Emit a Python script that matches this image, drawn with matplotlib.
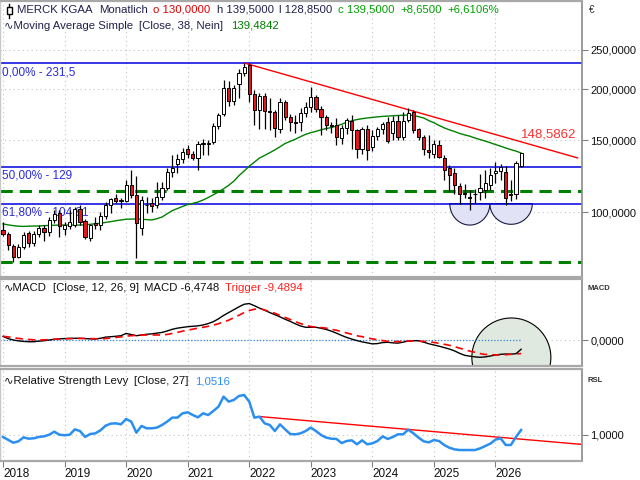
import numpy as np
import matplotlib
matplotlib.use("Agg")
import matplotlib.pyplot as plt
from matplotlib.patches import Ellipse, Polygon
from matplotlib.lines import Line2D
from matplotlib.transforms import blended_transform_factory
import matplotlib.ticker as mticker

plt.rcParams['font.family'] = ['Liberation Sans', 'DejaVu Sans']

# ---------------- data (monthly candles, Jan 2018 ...) ----------------
opens = [90.5, 88.5, 82.5, 77.5, 82.0, 88.8, 84.0, 88.5, 91.3, 89.5, 95.5, 99.5,
         91.0, 92.5, 93.0, 101.5, 95.0, 86.5, 94.0, 92.8, 97.8, 104.3, 108.0, 106.3,
         106.3, 116.5, 110.0, 91.3, 104.0, 105.4, 103.8, 108.6, 114.3, 125.5, 131.0, 134.5,
         142.5, 139.0, 136.0, 146.5, 147.0, 148.7, 162.5, 173.5, 201.0, 187.0, 206.0, 218.5,
         229.0, 194.5, 177.8, 192.0, 176.5, 175.5, 160.0, 185.5, 171.0, 166.0, 166.0, 174.5,
         181.0, 191.0, 179.0, 171.0, 163.0, 163.0, 152.0, 160.5, 167.5, 158.5, 143.0, 160.0,
         144.0, 153.5, 159.7, 166.5, 155.9, 167.3, 152.5, 168.0, 176.0, 159.5, 152.5, 141.9,
         138.7, 146.0, 136.0, 128.0, 124.4, 115.5, 111.5, 109.0, 111.0, 111.7, 113.0, 116.5,
         124.5, 126.0, 125.5, 110.5, 111.0, 130.0]
highs = [94.5, 89.5, 83.5, 83.5, 89.5, 90.0, 90.0, 93.0, 93.0, 97.0, 101.0, 101.0,
         94.5, 101.0, 103.0, 104.0, 96.0, 93.5, 97.0, 100.0, 106.0, 108.5, 111.0, 108.0,
         120.0, 126.7, 122.5, 109.5, 109.0, 108.0, 118.5, 118.5, 128.0, 138.0, 139.0, 143.5,
         146.0, 141.0, 149.0, 151.0, 150.0, 165.0, 175.0, 210.6, 210.0, 205.0, 224.0, 231.5,
         231.5, 199.0, 196.0, 196.0, 190.0, 178.0, 190.0, 188.0, 174.0, 173.0, 180.0, 186.0,
         203.0, 193.0, 182.0, 173.0, 166.0, 170.0, 163.0, 170.0, 173.0, 160.0, 162.0, 163.0,
         158.5, 162.0, 166.5, 171.0, 172.0, 172.5, 176.0, 180.0, 178.0, 161.0, 154.5, 154.7,
         150.0, 150.0, 138.0, 130.5, 128.0, 117.5, 117.0, 113.5, 114.0, 124.0, 127.0, 128.0,
         132.7, 131.0, 130.0, 119.5, 133.0, 139.5]
lows = [87.5, 80.5, 75.5, 77.0, 81.0, 82.0, 82.5, 87.0, 85.0, 87.5, 94.0, 87.0,
        88.0, 91.0, 92.0, 93.0, 86.0, 85.0, 91.0, 90.5, 96.0, 99.6, 105.0, 102.0,
        106.0, 108.0, 77.0, 87.8, 99.5, 100.0, 102.0, 107.0, 113.0, 121.8, 124.5, 132.0,
        136.0, 134.0, 126.7, 138.0, 138.0, 147.0, 160.0, 172.0, 182.0, 183.0, 190.0, 215.0,
        186.0, 163.0, 160.0, 160.0, 159.0, 153.0, 156.0, 168.0, 158.0, 156.0, 158.0, 171.0,
        176.0, 176.0, 154.0, 159.0, 156.0, 146.0, 147.0, 155.0, 142.5, 135.7, 139.0, 134.0,
        141.0, 150.0, 155.0, 148.0, 150.0, 150.5, 150.0, 166.0, 156.5, 150.0, 138.0, 135.5,
        135.5, 135.5, 119.8, 112.5, 111.0, 104.5, 108.0, 101.0, 105.0, 107.0, 108.0, 113.0,
        118.0, 120.0, 104.0, 106.5, 107.5, 128.85]
closes = [88.5, 83.0, 77.5, 82.0, 87.8, 84.0, 88.3, 91.3, 89.5, 95.6, 99.0, 92.3,
          93.0, 94.5, 101.5, 94.5, 87.0, 92.8, 92.8, 97.8, 104.0, 107.5, 106.5, 107.0,
          116.5, 110.0, 94.2, 107.0, 104.3, 103.6, 108.6, 114.3, 125.5, 128.3, 134.7, 140.5,
          138.5, 135.5, 146.5, 147.3, 148.0, 162.5, 172.7, 201.0, 187.0, 201.0, 218.7, 227.0,
          194.5, 177.8, 192.0, 177.0, 175.5, 161.0, 185.5, 171.0, 166.0, 165.0, 174.5, 181.0,
          191.0, 178.5, 171.0, 163.0, 162.5, 152.5, 160.5, 168.0, 158.5, 143.0, 160.0, 142.0,
          153.5, 159.7, 164.5, 149.5, 167.3, 152.3, 167.5, 175.0, 159.0, 152.5, 143.0, 140.0,
          146.7, 136.6, 126.7, 123.0, 116.5, 110.7, 111.0, 108.0, 110.5, 114.3, 118.0, 123.2,
          126.0, 129.0, 108.0, 110.0, 131.6, 139.5]
ma38 = [93.5, 93.0, 92.6, 92.3, 92.2, 92.3, 92.4, 92.4, 92.6, 92.7, 92.8, 92.9,
        92.9, 92.9, 92.9, 92.9, 93.0, 93.3, 93.6, 93.8, 94.3, 94.7, 95.2, 95.6,
        96.0, 96.1, 96.1, 96.0, 95.8, 95.6, 96.3, 97.2, 99.0, 100.8, 102.0, 103.2,
        104.3, 105.0, 105.8, 107.0, 108.5, 110.2, 112.0, 114.0, 116.3, 119.0, 122.8, 126.0,
        129.5, 132.5, 135.6, 137.6, 139.7, 142.0, 144.5, 147.2, 149.0, 150.8, 153.0, 155.0,
        156.5, 157.6, 159.0, 160.2, 161.0, 162.5, 164.0, 166.0, 167.3, 168.5, 169.3, 170.0,
        170.5, 171.1, 171.5, 171.8, 172.1, 172.4, 172.6, 172.8, 172.5, 171.2, 170.0, 167.5,
        165.5, 163.0, 160.8, 159.0, 157.5, 155.8, 154.5, 153.4, 151.8, 150.5, 149.2, 147.8,
        146.3, 145.0, 143.5, 142.2, 141.0, 139.5]
macd = [2.5, 1.0, 0.0, -0.6, -1.0, -1.2, -1.2, -0.8, -0.5, 0.0, 0.5, 0.8,
        1.0, 1.2, 1.2, 1.2, 1.0, 0.8, 0.7, 1.2, 2.0, 2.3, 2.6, 3.0,
        4.6, 3.8, 3.0, 3.5, 4.0, 4.3, 4.8, 5.3, 6.3, 7.5, 8.3, 8.8,
        9.3, 9.6, 9.9, 10.5, 11.5, 12.8, 14.8, 17.2, 19.2, 21.2, 23.2, 25.0,
        25.5, 24.0, 22.3, 20.8, 19.2, 17.7, 16.2, 14.5, 13.0, 11.3, 9.8, 8.9,
        8.9, 8.9, 8.2, 7.4, 6.2, 4.8, 3.2, 1.8, 0.6, -0.4, -1.3, -2.0,
        -2.7, -2.5, -1.8, -1.6, -2.0, -2.2, -1.5, -0.7, -0.5, -0.5, -1.5, -2.6,
        -3.5, -4.3, -5.3, -6.3, -7.6, -9.3, -10.7, -11.3, -11.8, -12.1, -11.8, -11.2,
        -10.5, -10.0, -9.8, -9.9, -9.6, -6.4748]
trigger = [2.6, 2.2, 1.6, 1.1, 0.7, 0.4, 0.1, 0.0, 0.1, 0.3, 0.5, 0.7,
           0.8, 0.9, 1.0, 1.1, 1.1, 1.0, 0.9, 0.8, 1.0, 1.4, 1.8, 2.2,
           2.7, 3.0, 3.3, 3.5, 3.5, 3.5, 3.5, 3.5, 3.9, 4.6, 5.3, 6.2,
           6.9, 7.6, 8.3, 8.9, 9.6, 10.4, 11.4, 12.6, 13.9, 15.6, 17.3, 19.2,
           20.6, 21.5, 22.0, 21.0, 19.8, 18.7, 17.2, 15.8, 14.3, 12.8, 11.5, 10.4,
           9.4, 9.0, 8.7, 8.3, 7.5, 6.8, 5.9, 4.9, 4.0, 3.0, 2.3, 1.5,
           0.8, 0.2, -0.4, -1.0, -1.2, -1.1, -1.0, -0.8, -0.7, -0.8, -1.0, -1.2,
           -1.7, -2.3, -3.0, -3.7, -4.6, -5.7, -6.7, -7.8, -8.6, -9.5, -10.1, -10.3,
           -10.4, -10.5, -10.3, -10.0, -9.8, -9.4894]
rsl = [0.980, 0.950, 0.920, 0.935, 0.975, 0.962, 0.966, 0.980, 0.986, 1.003, 1.034, 1.003,
       0.997, 1.003, 1.058, 1.041, 0.980, 1.010, 1.017, 1.048, 1.096, 1.117, 1.120, 1.110,
       1.165, 1.138, 1.024, 1.093, 1.069, 1.069, 1.076, 1.103, 1.138, 1.179, 1.179, 1.223,
       1.234, 1.206, 1.182, 1.223, 1.206, 1.247, 1.292, 1.395, 1.344, 1.361, 1.402, 1.412,
       1.344, 1.179, 1.189, 1.120, 1.103, 1.041, 1.110, 1.058, 1.010, 1.007, 1.017, 1.041,
       1.076, 1.041, 1.000, 0.973, 0.962, 0.959, 0.917, 0.938, 0.945, 0.904, 0.945, 0.904,
       0.914, 0.938, 0.986, 0.959, 0.980, 1.007, 1.007, 1.055, 1.017, 0.973, 0.935, 0.924,
       0.948, 0.938, 0.897, 0.869, 0.852, 0.845, 0.845, 0.845, 0.845, 0.862, 0.886, 0.911,
       0.952, 0.966, 0.897, 0.897, 0.980, 1.0516]
years = ["2018", "2019", "2020", "2021", "2022", "2023", "2024", "2025", "2026"]
fib_levels = [231.5, 129.0, 104.81]
fib_labels = ["0,00% - 231,5", "50,00% - 129", "61,80% - 104,81"]
support_levels = [112.8, 75.3]
trend_x = [47.2, 112.0]
trend_y = [231.5, 135.7]
trend_label = "148,5862"
rsl_trend_x = [50.2, 112.6]
rsl_trend_y = [1.189, 0.904]
cup_centers = [91.0, 99.05]
cup_halfwidths = [3.9, 4.13]
cup_bottoms = [92.9, 93.3]

# ---------------- figure / layout ----------------
W, H = 640, 480
fig = plt.figure(figsize=(6.4, 4.8), dpi=100)


def rect(x0, y0, x1, y1):
    return [x0 / W, 1 - y1 / H, (x1 - x0) / W, (y1 - y0) / H]


ax1 = fig.add_axes(rect(0, 1, 582, 277))
ax2 = fig.add_axes(rect(0, 279, 582, 366), sharex=ax1)
ax3 = fig.add_axes(rect(0, 369, 582, 461), sharex=ax1)

n = len(closes)
idx = np.arange(n)
o = np.array(opens); h = np.array(highs); l = np.array(lows); c = np.array(closes)

DARK = '#20204e'
GRID = '#c4c4c4'

for ax in (ax1, ax2, ax3):
    ax.set_facecolor('white')
    for s in ('top', 'bottom'):
        ax.spines[s].set_color('#a8a8a8'); ax.spines[s].set_linewidth(1.6)
    ax.spines['left'].set_color('#c8c8c8'); ax.spines['left'].set_linewidth(1.0)
    ax.spines['right'].set_color('#8a8a8a'); ax.spines['right'].set_linewidth(1.2)
    ax.yaxis.tick_right()
    ax.tick_params(axis='y', which='both', left=False, right=True, labelleft=False,
                   labelright=True, direction='out', length=4, color='#808080',
                   labelsize=8, pad=2, labelcolor='#111111')
    ax.grid(True, color=GRID, ls=(0, (1, 3)), lw=0.8)
    ax.set_axisbelow(True)

ax1.set_xlim(-0.585, 112.87)
year_ticks = [12 * k for k in range(len(years))]
ax1.set_xticks(year_ticks)
ax1.tick_params(axis='x', which='both', bottom=False, labelbottom=False)
ax2.tick_params(axis='x', which='both', bottom=False, labelbottom=False)

# ---------------- price panel ----------------
ax1.set_yscale('log')
ax1.set_ylim(69.3, 328.9)
ax1.yaxis.set_major_locator(mticker.FixedLocator([100, 150, 200, 250]))
ax1.yaxis.set_minor_locator(mticker.NullLocator())
ax1.yaxis.set_major_formatter(mticker.FuncFormatter(lambda v, p: f"{v:.4f}".replace('.', ',')))

for lev in fib_levels:
    ax1.axhline(lev, color='#0000e0', lw=1.1, zorder=2)
for lev in support_levels:
    ax1.axhline(lev, color='#008000', lw=2.2, ls=(0, (4, 2.3)), zorder=2)

for lev, lab in zip(fib_levels, fib_labels):
    ax1.annotate(lab, xy=(0, lev), xycoords=blended_transform_factory(ax1.transAxes, ax1.transData),
                 xytext=(2, -3), textcoords='offset pixels', ha='left', va='top',
                 color='#2b2bdc', fontsize=8.5, zorder=2)

# cups (half ellipses under the 61.8% line)
top = fib_levels[2]
t = np.linspace(0, np.pi, 60)
for cc, hw, bt in zip(cup_centers, cup_halfwidths, cup_bottoms):
    xs = cc + hw * np.cos(t)
    ys = 10 ** (np.log10(top) - (np.log10(top) - np.log10(bt)) * np.sin(t))
    ax1.add_patch(Polygon(np.column_stack([xs, ys]), closed=True, facecolor='#e2e2f7',
                          edgecolor='#1a1a40', lw=0.8, zorder=1.5))

ax1.plot(idx, ma38, color='#008000', lw=1.0, zorder=2.5)
ax1.plot(trend_x, trend_y, color='#ff0000', lw=1.0, zorder=2.5)

up = c >= o
blo = np.minimum(o, c); bhi = np.maximum(o, c)
ax1.vlines(idx, l, h, color='black', lw=0.9, zorder=3)
ax1.bar(idx, np.maximum(bhi - blo, 0.3), bottom=blo, width=0.62,
        color=np.where(up, 'white', '#e8141c'), edgecolor='black', linewidth=0.7, zorder=4)

trend_at_last = trend_y[0] * (trend_y[1] / trend_y[0]) ** ((idx[-1] - trend_x[0]) / (trend_x[1] - trend_x[0]))
ax1.annotate(trend_label, xy=(idx[-1], trend_at_last),
             xytext=(0, 1), textcoords='offset pixels', ha='left', va='bottom',
             color='#ff3030', fontsize=9.5, zorder=5)

# header texts
def chain(ax, parts, x0, y0, size=8.2):
    prev = ax.text(x0, y0, parts[0][0], color=parts[0][1], fontsize=size,
                   transform=ax.transAxes, ha='left', va='center', zorder=6)
    for txt, col, gap in parts[1:]:
        prev = ax.annotate(txt, xy=(1, 0.5), xycoords=prev, xytext=(gap, 0),
                           textcoords='offset pixels', ha='left', va='center',
                           color=col, fontsize=size, zorder=6)
    return prev

chain(ax1, [("MERCK KGAA", DARK, 0), ("Monatlich", DARK, 6), ("o 130,0000", '#e00000', 6),
            ("h 139,5000", DARK, 6), ("l 128,8500", DARK, 5), ("c 139,5000", '#00a000', 6),
            ("+8,6500", '#00a000', 6), ("+6,6106%", '#00a000', 6)], 17 / 582, 1 - 9 / 276)
chain(ax1, [("\u223fMoving Average Simple", DARK, 0), ("[Close, 38, Nein]", DARK, 6),
            ("139,4842", '#008000', 8)], 4 / 582, 1 - 25 / 276)
# small candle icon in header
ax1.add_line(Line2D([9 / 582, 9 / 582], [1 - 3 / 276, 1 - 17 / 276], transform=ax1.transAxes, color='black', lw=1))
ax1.add_patch(plt.Rectangle((6.5 / 582, 1 - 13 / 276), 5 / 582, 7 / 276, transform=ax1.transAxes,
                            facecolor='white', edgecolor='black', lw=1, zorder=6))
ax1.text(1.012, 1 - 9 / 276, "\u20ac", transform=ax1.transAxes, fontsize=7, ha='left', va='center',
         color='#333333')

# ---------------- MACD panel ----------------
ax2.set_ylim(-18.18, 42.66)
ax2.yaxis.set_major_locator(mticker.FixedLocator([0]))
ax2.yaxis.set_major_formatter(mticker.FuncFormatter(lambda v, p: f"{v:.4f}".replace('.', ',').replace('-0,', '0,')))
ax2.add_patch(Ellipse((99.1, -12.2), width=15.4, height=55.2, facecolor='#dfe9df',
                      edgecolor='black', lw=0.8, zorder=1.5))
ax2.hlines(0, -0.585, idx[-1], color='#2f86e0', lw=0.9, ls=(0, (1, 1.5)), zorder=2)
ax2.plot(idx, macd, color='black', lw=1.0, zorder=3)
ax2.plot(idx, trigger, color='#ff0000', lw=1.2, ls=(0, (4.5, 3)), zorder=3)
chain(ax2, [("\u223fMACD", '#111111', 0), ("[Close, 12, 26, 9]", '#111111', 6),
            ("MACD -6,4748", '#111111', 5), ("Trigger -9,4894", '#ff2020', 6)], 4 / 582, (366 - 288) / 87)
ax2.text(1.01, (366 - 288) / 87, "MACD", transform=ax2.transAxes, fontsize=5.5, fontweight='bold',
         ha='left', va='center', color='#333333')

# ---------------- RSL panel ----------------
ax3.set_ylim(0.732, 1.680)
ax3.yaxis.set_major_locator(mticker.FixedLocator([1.0]))
ax3.yaxis.set_major_formatter(mticker.FuncFormatter(lambda v, p: f"{v:.4f}".replace('.', ',')))
ax3.plot(rsl_trend_x, rsl_trend_y, color='#ff0000', lw=1.0, zorder=2.5)
ax3.plot(idx, rsl, color='#2b8ff0', lw=1.8, zorder=3)
chain(ax3, [("\u223fRelative Strength Levy", '#111111', 0), ("[Close, 27]", '#111111', 6),
            ("1,0516", '#2b8ff0', 6)], 4 / 582, (461 - 381) / 92)
ax3.text(1.01, (461 - 381) / 92, "RSL", transform=ax3.transAxes, fontsize=5.5, fontweight='bold',
         ha='left', va='center', color='#333333')

ax3.set_xticks(year_ticks)
ax3.set_xticklabels(years)
ax3.tick_params(axis='x', which='both', bottom=True, labelbottom=True, direction='out',
                length=4, color='#808080', labelsize=8.5, pad=1, labelcolor='#111111')
for lab in ax3.get_xticklabels():
    lab.set_horizontalalignment('left')

fig.savefig("out.png", dpi=100, facecolor='white')
